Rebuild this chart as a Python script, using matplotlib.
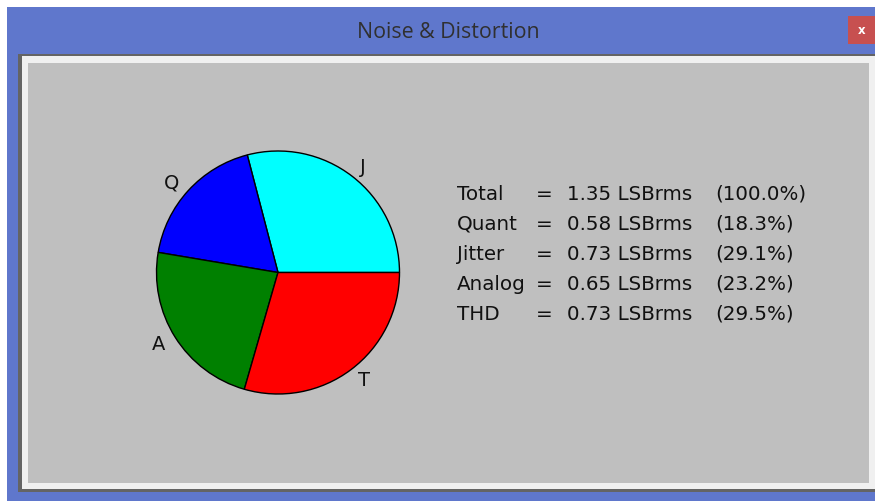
import matplotlib
matplotlib.use("Agg")
import matplotlib.pyplot as plt
from matplotlib.patches import Rectangle

# noise budget, in LSB rms and percent of total power
names = ['Total', 'Quant', 'Jitter', 'Analog', 'THD']
lsb_rms = [1.35, 0.58, 0.73, 0.65, 0.73]
percent = [100.0, 18.3, 29.1, 23.2, 29.5]

# pie wedges, counter-clockwise from 0 deg
pie_labels = ['J', 'Q', 'A', 'T']
pie_values = [29.1, 18.3, 23.2, 29.5]
pie_colors = ['cyan', 'blue', 'green', 'red']

W, H = 875, 502
fig = plt.figure(figsize=(W / 100, H / 100), dpi=100)
fig.patch.set_facecolor('white')

# window frame drawn in pixel coordinates
bg = fig.add_axes([0, 0, 1, 1])
bg.set_xlim(0, W)
bg.set_ylim(H, 0)
bg.axis('off')
bg.add_patch(Rectangle((7, 8), W - 7, H - 8, color='#5f77cc', lw=0))
bg.add_patch(Rectangle((18, 55), W - 18, 438, color='#646464', lw=0))
bg.add_patch(Rectangle((22, 57), W - 22, 433, color='#f0f0f0', lw=0))
bg.add_patch(Rectangle((28, 64), 841, 420, color='#bfbfbf', lw=0))
bg.add_patch(Rectangle((848, 17), 27, 28, color='#c75050', lw=0))
bg.text(861.5, 30.5, 'x', color='white', fontsize=8.5, fontweight='bold',
        ha='center', va='center')
bg.text(448, 32, 'Noise & Distortion', color='#303030', fontsize=15.4,
        family='Open Sans', ha='center', va='center')

# pie chart
cx, cy, r = 278, 273.5, 121.5
lim = 1.25
side = 2 * lim * r
ax = fig.add_axes([(cx - side / 2) / W, (H - cy - side / 2) / H, side / W, side / H])
ax.pie(pie_values, labels=pie_labels, colors=pie_colors, startangle=0,
       counterclock=True, wedgeprops={'edgecolor': 'black', 'linewidth': 1.0},
       textprops={'fontsize': 14, 'color': '#111111'})
ax.set_xlim(-lim, lim)
ax.set_ylim(-lim, lim)
ax.set_aspect('equal')
ax.axis('off')

# summary table
for i, name in enumerate(names):
    y = 200 + 30 * i
    kw = dict(fontsize=14.3, color='#111111', va='baseline', ha='left')
    bg.text(457, y, name, **kw)
    bg.text(536, y, '=', **kw)
    bg.text(567, y, f'{lsb_rms[i]:.2f} LSBrms', **kw)
    bg.text(715, y, f'({percent[i]:.1f}%)', **kw)

fig.savefig('out.png', dpi=100)
